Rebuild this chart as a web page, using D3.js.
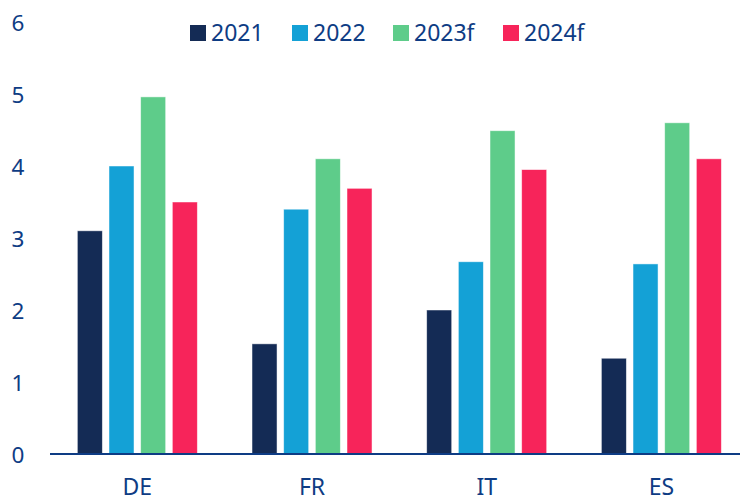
<!DOCTYPE html>
<html>
<head>
<meta charset="utf-8">
<script src="https://cdn.jsdelivr.net/npm/d3@7"></script>
<style>
    body { margin: 0; background: #fff; }
    svg { display: block; font-family: "Noto Sans", sans-serif; }
    .axis text { fill: #0e3c84; }
</style>
</head>
<body>
<svg id="Chart" width="740" height="503"></svg>
<script>
var categories = ['DE', 'FR', 'IT', 'ES'];
var seriesNames = ['2021', '2022', '2023f', '2024f'];
var values2021 = [3.1, 1.53, 2.0, 1.33];
var values2022 = [4.0, 3.4, 2.67, 2.64];
var values2023f = [4.96, 4.1, 4.49, 4.6];
var values2024f = [3.5, 3.69, 3.95, 4.1];
var yTicks = [0, 1, 2, 3, 4, 5, 6];
var colors = ['#142b55', '#14a1d6', '#5ecc8a', '#f7245a'];

var series = [values2021, values2022, values2023f, values2024f];
var textColor = '#0e3c84';
var svg = d3.select('#Chart');

var yScale = d3.scaleLinear().domain([0, 6]).range([454, 22]);
var x0 = d3.scaleBand().domain(categories).range([50, 748.7]);
var x1 = d3.scaleBand().domain(seriesNames).range([0, 120]).paddingInner(0.21);
var groupOffset = (x0.bandwidth() - 120) / 2;

// y labels, no axis line
var yAxis = svg.append('g')
    .attr('class', 'axis')
    .attr('transform', 'translate(26,0)')
    .call(d3.axisLeft(yScale).tickValues(yTicks).tickSize(0).tickPadding(0).tickFormat(d3.format('d')));
yAxis.attr('font-family', null).attr('font-size', null);
yAxis.select('.domain').remove();
yAxis.selectAll('text')
    .attr('x', -8)
    .attr('dy', '0.36em')
    .attr('text-anchor', 'middle')
    .style('font-size', '22.5px');

// bars
var data = [];
categories.forEach(function (c, i) {
    seriesNames.forEach(function (s, j) {
        data.push({ cat: c, name: s, value: series[j][i], color: colors[j] });
    });
});
svg.append('g')
    .selectAll('rect')
    .data(data)
    .enter()
    .append('rect')
    .attr('x', function (d) { return x0(d.cat) + groupOffset + x1(d.name); })
    .attr('y', function (d) { return yScale(d.value); })
    .attr('width', x1.bandwidth())
    .attr('height', function (d) { return yScale(0) - yScale(d.value); })
    .attr('fill', function (d) { return d.color; })
    .attr('stroke', '#ffffff')
    .attr('stroke-opacity', 0.6)
    .attr('stroke-width', 0.8);

// x axis
var xAxis = svg.append('g')
    .attr('class', 'axis')
    .attr('transform', 'translate(0,' + yScale(0) + ')')
    .call(d3.axisBottom(x0).tickSize(0).tickPadding(0));
xAxis.attr('font-family', null).attr('font-size', null);
xAxis.select('.domain')
    .attr('d', 'M50,0H740')
    .attr('stroke', textColor)
    .attr('stroke-width', 2.2);
xAxis.selectAll('text')
    .attr('y', 41)
    .attr('dy', 0)
    .style('font-size', '23px');

// legend
var legendX = [190, 292, 393, 503];
var legend = svg.append('g')
    .selectAll('g')
    .data(seriesNames)
    .enter()
    .append('g')
    .attr('transform', function (d, i) { return 'translate(' + legendX[i] + ',25)'; });
legend.append('rect')
    .attr('width', 16)
    .attr('height', 16)
    .attr('fill', function (d, i) { return colors[i]; });
legend.append('text')
    .attr('x', 21)
    .attr('y', 16)
    .attr('fill', textColor)
    .style('font-size', '23px')
    .text(function (d) { return d; });
</script>
</body>
</html>
